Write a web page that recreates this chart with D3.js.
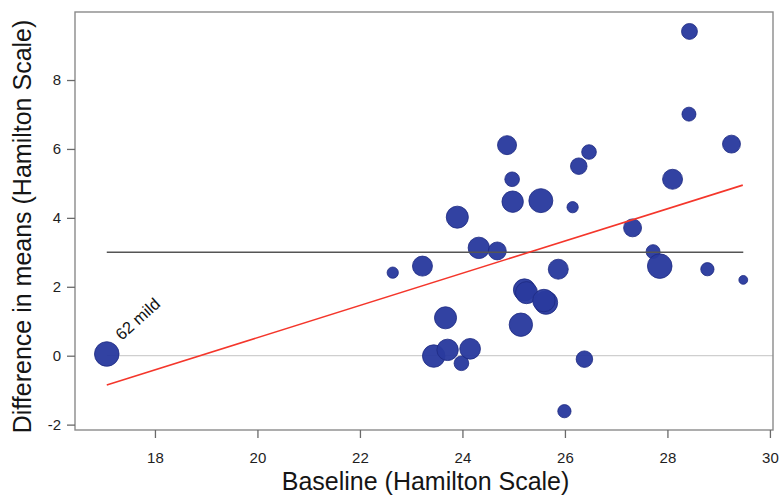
<!DOCTYPE html>
<html>
<head>
<meta charset="utf-8">
<script src="https://cdn.jsdelivr.net/npm/d3@7"></script>
<style>
  html, body { margin: 0; padding: 0; background: #ffffff; }
  svg { display: block; }
  text { font-family: "Liberation Sans", Arial, Helvetica, sans-serif; }
</style>
</head>
<body>
<div id="chart"></div>
<script>
// Study-level results: baseline severity vs. difference in means (Hamilton Scale)
const baseline = [17.06, 22.64, 23.22, 23.90, 24.32, 24.68, 24.87, 24.97, 24.98, 25.53,
                  26.15, 26.27, 26.47, 27.32, 27.72, 27.85, 28.10, 28.43, 28.42, 28.78,
                  29.25, 29.48, 25.87, 25.21, 25.25, 25.63, 25.59, 25.14, 23.67, 23.44,
                  23.71, 23.98, 24.15, 26.38, 25.99];
const diffMeans = [0.05, 2.41, 2.60, 4.02, 3.13, 3.04, 6.11, 5.12, 4.47, 4.50,
                   4.31, 5.50, 5.91, 3.71, 3.02, 2.60, 5.12, 9.41, 7.01, 2.51,
                   6.14, 2.20, 2.51, 1.91, 1.83, 1.54, 1.60, 0.90, 1.10, -0.01,
                   0.17, -0.22, 0.20, -0.10, -1.61];
const sampleSize = [62, 13, 41, 50, 47, 33, 37, 22, 47, 59,
                    13, 28, 22, 33, 20, 62, 41, 26, 20, 18,
                    33, 8, 41, 50, 50, 56, 52, 56, 50, 52,
                    47, 22, 44, 28, 18];
const studyLabels = ["62 mild"];       // annotation for the first study
const xTicks = [18, 20, 22, 24, 26, 28, 30];
const yTicks = [-2, 0, 2, 4, 6, 8];
const referenceLevel = 3;               // horizontal reference difference
const fitX = [17.06, 29.47];            // meta-regression line end points
const fitY = [-0.85, 4.95];

const W = 780, H = 495;
const margin = { top: 12, right: 7, bottom: 65, left: 75 };
const iw = W - margin.left - margin.right;
const ih = H - margin.top - margin.bottom;

const svg = d3.select("#chart").append("svg")
  .attr("width", W).attr("height", H);

const g = svg.append("g").attr("transform", `translate(${margin.left},${margin.top})`);

const x = d3.scaleLinear().domain([16.44, 30.06]).range([0, iw]);
const y = d3.scaleLinear().domain([-2.156, 9.974]).range([ih, 0]);
const r = d3.scaleSqrt().domain([0, 62]).range([0, 12.3]);

const points = baseline.map((b, i) => ({ x: b, y: diffMeans[i], n: sampleSize[i] }));
const xMin = d3.min(baseline), xMax = d3.max(baseline);
const tickFmt = d => String(d);   // plain hyphen for negatives

// zero line
g.append("line")
  .attr("x1", x(xMin)).attr("x2", x(x.domain()[1]))
  .attr("y1", y(0)).attr("y2", y(0))
  .attr("stroke", "#cfcfcf").attr("stroke-width", 1.2);

// study bubbles, sized by sample size
g.append("g").selectAll("circle")
  .data(points)
  .join("circle")
  .attr("cx", d => x(d.x))
  .attr("cy", d => y(d.y))
  .attr("r", d => r(d.n))
  .attr("fill", "#2a3a9e")
  .attr("fill-opacity", 0.96)
  .attr("stroke", "#1e2a82")
  .attr("stroke-opacity", 0.8)
  .attr("stroke-width", 1);

// reference level
g.append("line")
  .attr("x1", x(xMin)).attr("x2", x(xMax))
  .attr("y1", y(referenceLevel)).attr("y2", y(referenceLevel))
  .attr("stroke", "#555555").attr("stroke-width", 1.4);

// regression line
g.append("line")
  .attr("x1", x(fitX[0])).attr("x2", x(fitX[1]))
  .attr("y1", y(fitY[0])).attr("y2", y(fitY[1]))
  .attr("stroke", "#f4362b").attr("stroke-width", 1.6);

// study annotation
g.append("text")
  .attr("transform", `translate(${x(baseline[0]) + 15},${y(diffMeans[0]) - 13}) rotate(-42)`)
  .attr("font-size", 16.5)
  .attr("fill", "#111")
  .text(studyLabels[0]);

// frame
g.append("rect")
  .attr("x", 0).attr("y", 0).attr("width", iw).attr("height", ih)
  .attr("fill", "none").attr("stroke", "#8a8a8a").attr("stroke-width", 1.4);

// axes
const xAxis = g.append("g")
  .attr("transform", `translate(0,${ih})`)
  .call(d3.axisBottom(x).tickValues(xTicks).tickSize(8).tickPadding(6).tickFormat(tickFmt));
const yAxis = g.append("g")
  .call(d3.axisLeft(y).tickValues(yTicks).tickSize(8).tickPadding(6).tickFormat(tickFmt));

[xAxis, yAxis].forEach(a => {
  a.select(".domain").remove();
  a.selectAll(".tick line").attr("stroke", "#6a6a6a").attr("stroke-width", 1.3);
  a.selectAll(".tick text").attr("fill", "#1e1e1e").attr("font-size", 15)
    .attr("font-family", "'Liberation Sans', Arial, Helvetica, sans-serif");
});
xAxis.selectAll(".tick text").attr("dy", "1.25em");

// axis titles
svg.append("text")
  .attr("x", margin.left + x(23.28))
  .attr("y", 490)
  .attr("text-anchor", "middle")
  .attr("font-size", 25)
  .attr("fill", "#151515")
  .text("Baseline (Hamilton Scale)");

svg.append("text")
  .attr("transform", `translate(31,${margin.top + y(3.75)}) rotate(-90)`)
  .attr("text-anchor", "middle")
  .attr("font-size", 25)
  .attr("fill", "#151515")
  .text("Difference in means (Hamilton Scale)");
</script>
</body>
</html>
